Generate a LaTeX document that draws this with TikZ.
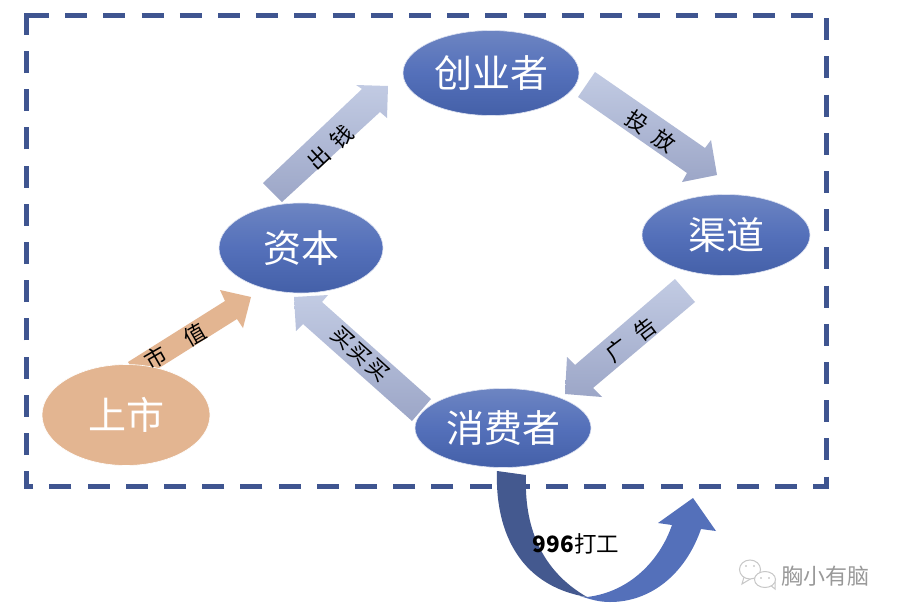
\documentclass[tikz,border=0pt]{standalone}
\usepackage{fontspec}
\setmainfont{Noto Sans CJK SC}
\usetikzlibrary{shapes.geometric}
\definecolor{dashblue}{HTML}{3F5590}
\definecolor{foldblue}{HTML}{44598F}
\definecolor{peach}{HTML}{E3B591}
\definecolor{blubtop}{HTML}{6D85C2}
\definecolor{blubmid}{HTML}{5470BA}
\definecolor{blubbot}{HTML}{4460A8}
\definecolor{arrtop}{HTML}{C2CBE3}
\definecolor{arrbot}{HTML}{9CA6C7}
\tikzset{
  bubble/.style={ellipse,minimum width=#1,inner sep=0pt,outer sep=2pt,text=white,font=\fontsize{38}{38}\selectfont,top color=blubtop,bottom color=blubbot,middle color=blubmid,draw=white!80!blubmid,line width=0.6pt},
  blockarrow/.style={top color=arrtop,bottom color=arrbot,draw=none},
  peacharrow/.style={fill=peach,draw=none},
  smalllabel/.style={font=\fontsize{22}{22}\selectfont,text=black,inner sep=0pt},
}
\begin{document}
\begin{tikzpicture}[x=1pt,y=-1pt]
\useasboundingbox (0,0) rectangle (900,616);
\fill[white] (0,0) rectangle (900,616);
% dashed frame
\draw[dashblue,line width=5pt,dash pattern=on 22pt off 16.2pt] (27,15) -- (826,15) -- (826,486) -- (26,486) -- (26,15) -- cycle;
% block arrows
\shade[blockarrow] (263,183) -- (362,89) -- (356,85) -- (388,86) -- (387,118) -- (380,112) -- (282,202) -- cycle;
\shade[blockarrow] (595,72) -- (705,148) -- (711,140) -- (717,175) -- (682,182) -- (687,173) -- (578,97) -- cycle;
\shade[blockarrow] (675,279) -- (695,302) -- (593,388) -- (602,397) -- (565,394) -- (567,357) -- (575,365) -- cycle;
\shade[blockarrow] (431,399) -- (412,421) -- (303,324) -- (296,331) -- (294,297) -- (328,295) -- (322,302) -- cycle;
\fill[peacharrow] (128,362) -- (225,301) -- (220,290) -- (251,297) -- (243,328) -- (237,319) -- (140,380) -- cycle;
% nodes
\node[bubble=176pt,minimum height=85pt] (founder) at (491,73) {\raisebox{3pt}{创业者}};
\node[bubble=164pt,minimum height=90pt] (capital) at (301,248) {\raisebox{2pt}{资本}};
\node[bubble=168pt,minimum height=81pt] (channel) at (726,235) {\raisebox{2pt}{渠道}};
\node[bubble=176pt,minimum height=79pt] (consumer) at (503,428) {\raisebox{2pt}{消费者}};
\node[ellipse,minimum width=168pt,minimum height=101pt,inner sep=0pt,fill=peach,draw=white,line width=0.6pt,text=white,font=\fontsize{38}{38}\selectfont] (ipo) at (126,415) {上市};
% curved arrow
\fill[blubmid] (587,597) .. controls (630,592) and (660,560) .. (672,525) -- (658,523) -- (693,498) -- (716,531) -- (701,529) .. controls (685,575) and (650,602) .. (610,602) .. controls (600,602) and (592,600) .. (580,596) -- cycle;
\fill[foldblue] (497,471) .. controls (495,525) and (515,585) .. (587,597) .. controls (540,570) and (524,525) .. (526,475) -- cycle;
% arrow labels
\node[smalllabel,rotate=43] (l1) at (330,147) {出\hspace{0.42em}钱};
\node[smalllabel,rotate=-34] (l2) at (651,131) {投\hspace{0.5em}放};
\node[smalllabel,rotate=37] (l3) at (631,340) {广\hspace{0.6em}告};
\node[smalllabel,rotate=-42] (l4) at (360,354) {买\hspace{0.08em}买\hspace{0.08em}买};
\node[smalllabel,rotate=30] (l5) at (175,346) {市\hspace{1.05em}值};
\node[font=\fontsize{22.5}{22.5}\selectfont,text=black,inner sep=0pt] (l6) at (576,544) {\textbf{996}打工};
% watermark
\begin{scope}[draw=black!22,fill=white,line width=1pt]
\filldraw (744,577) -- (742,584) -- (752,578) -- cycle;
\filldraw (750,569.5) ellipse (10.5pt and 9.5pt);
\filldraw (769,584) -- (775,589) -- (775,582) -- cycle;
\filldraw (765,579.5) ellipse (10.5pt and 8pt);
\fill[black!30] (746,566) circle (0.9pt) (754,566) circle (0.9pt) (761,578) circle (0.9pt) (769,578) circle (0.9pt);
\end{scope}
\node[text=black!40,font=\fontsize{22}{22}\selectfont] (wm) at (825.5,576) {胸小有脑};
\end{tikzpicture}
\end{document}
